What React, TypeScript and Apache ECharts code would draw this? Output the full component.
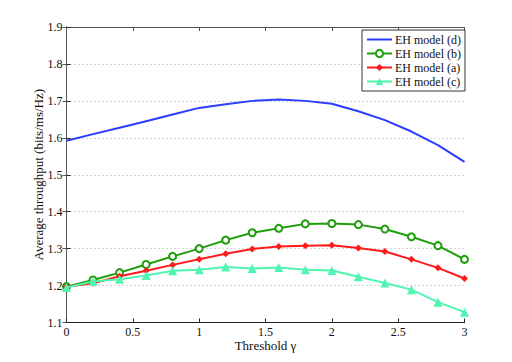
import React, { useEffect, useRef } from "react";
import * as echarts from "echarts";

const thresholds = [0, 0.2, 0.4, 0.6, 0.8, 1.0, 1.2, 1.4, 1.6, 1.8, 2.0, 2.2, 2.4, 2.6, 2.8, 3.0];
const modelD = [1.592, 1.61, 1.627, 1.645, 1.663, 1.681, 1.691, 1.7, 1.704, 1.7, 1.692, 1.672, 1.648, 1.617, 1.58, 1.535];
const modelB = [1.197, 1.215, 1.235, 1.257, 1.279, 1.3, 1.323, 1.343, 1.355, 1.367, 1.368, 1.365, 1.353, 1.332, 1.308, 1.271];
const modelA = [1.197, 1.206, 1.225, 1.24, 1.256, 1.271, 1.286, 1.299, 1.306, 1.308, 1.309, 1.302, 1.292, 1.271, 1.248, 1.219];
const modelC = [1.195, 1.211, 1.217, 1.227, 1.24, 1.243, 1.25, 1.246, 1.249, 1.243, 1.241, 1.224, 1.207, 1.189, 1.155, 1.128];
const seriesNames = ["EH model (d)", "EH model (b)", "EH model (a)", "EH model (c)"];

const FONT = "Liberation Serif";

export default function App() {
  const ref = useRef<HTMLDivElement>(null);
  useEffect(() => {
    if (!ref.current) return;
    const chart = echarts.init(ref.current, undefined, { renderer: "svg" });
    const pairs = (ys: number[]) => thresholds.map((x, i) => [x, ys[i]]);
    const axisCommon = {
      axisLine: { show: true, lineStyle: { color: "#222", width: 1 } },
      axisTick: { show: true, inside: true, length: 4, lineStyle: { color: "#222" } },
    };
    chart.setOption({
      animation: false,
      backgroundColor: "#fff",
      textStyle: { fontFamily: FONT },
      grid: { left: 66.5, right: 47.5, top: 27, bottom: 39.5, containLabel: false },
      legend: {
        orient: "vertical",
        left: 362,
        top: 30,
        backgroundColor: "#fff",
        borderColor: "#333",
        borderWidth: 1,
        borderRadius: 0,
        padding: [3, 4, 3, 4],
        itemGap: 1,
        itemWidth: 25,
        itemHeight: 9,
        textStyle: { fontFamily: FONT, fontSize: 12, lineHeight: 13, color: "#111", padding: [0, 0, 0, -2] },
        data: [
          { name: seriesNames[0], itemStyle: { opacity: 0 } },
          { name: seriesNames[1] },
          { name: seriesNames[2] },
          { name: seriesNames[3] },
        ],
      },
      xAxis: [
        {
          type: "value",
          min: 0,
          max: 3,
          interval: 0.5,
          name: "Threshold γ",
          nameLocation: "middle",
          nameGap: 16,
          nameMoveOverlap: false,
          nameTextStyle: { fontFamily: FONT, fontSize: 13, color: "#111" },
          axisLabel: { fontFamily: FONT, fontSize: 12, color: "#111", margin: 3 },
          splitLine: { show: false },
          ...axisCommon,
        },
        {
          type: "value",
          position: "top",
          min: 0,
          max: 3,
          interval: 0.5,
          axisLabel: { show: false },
          splitLine: { show: false },
          axisLine: { show: true, lineStyle: { color: "#555", width: 1 } },
          axisTick: { show: true, inside: true, length: 4, lineStyle: { color: "#555" } },
        },
      ],
      yAxis: [
        {
          type: "value",
          min: 1.1,
          max: 1.9,
          interval: 0.1,
          name: "Average throughput (bits/ms/Hz)",
          nameLocation: "middle",
          nameGap: 21.5,
          nameMoveOverlap: false,
          nameTextStyle: { fontFamily: FONT, fontSize: 13, color: "#111" },
          axisLabel: {
            fontFamily: FONT,
            fontSize: 12,
            color: "#111",
            margin: 4,
            formatter: (v: number) => v.toFixed(1),
          },
          splitLine: { show: true, lineStyle: { color: "#aaa", type: [1, 3], width: 1 } },
          ...axisCommon,
        },
        {
          type: "value",
          position: "right",
          min: 1.1,
          max: 1.9,
          interval: 0.1,
          axisLabel: { show: false },
          splitLine: { show: false },
          axisLine: { show: true, lineStyle: { color: "#555", width: 1 } },
          axisTick: { show: true, inside: true, length: 4, lineStyle: { color: "#555" } },
        },
      ],
      series: [
        {
          name: seriesNames[0],
          type: "line",
          data: pairs(modelD),
          symbol: "none",
          lineStyle: { color: "#2a3cff", width: 2 },
          itemStyle: { color: "#2a3cff" },
        },
        {
          name: seriesNames[1],
          type: "line",
          data: pairs(modelB),
          symbol: "emptyCircle",
          symbolSize: 7,
          lineStyle: { color: "#1e9e0a", width: 2 },
          itemStyle: { color: "#1e9e0a", borderWidth: 1.5, borderColor: "#1e9e0a" },
          z: 3,
        },
        {
          name: seriesNames[2],
          type: "line",
          data: pairs(modelA),
          symbol: "diamond",
          symbolSize: 7,
          lineStyle: { color: "#ff1a1a", width: 2 },
          itemStyle: { color: "#ff1a1a" },
          z: 4,
        },
        {
          name: seriesNames[3],
          type: "line",
          data: pairs(modelC),
          symbol: "triangle",
          symbolSize: 9,
          lineStyle: { color: "#4ff5b0", width: 2 },
          itemStyle: { color: "#4ff5b0" },
          z: 5,
        },
      ],
    });
    return () => chart.dispose();
  }, []);
  return <div ref={ref} style={{ width: 512, height: 362, margin: -8 }} />;
}
